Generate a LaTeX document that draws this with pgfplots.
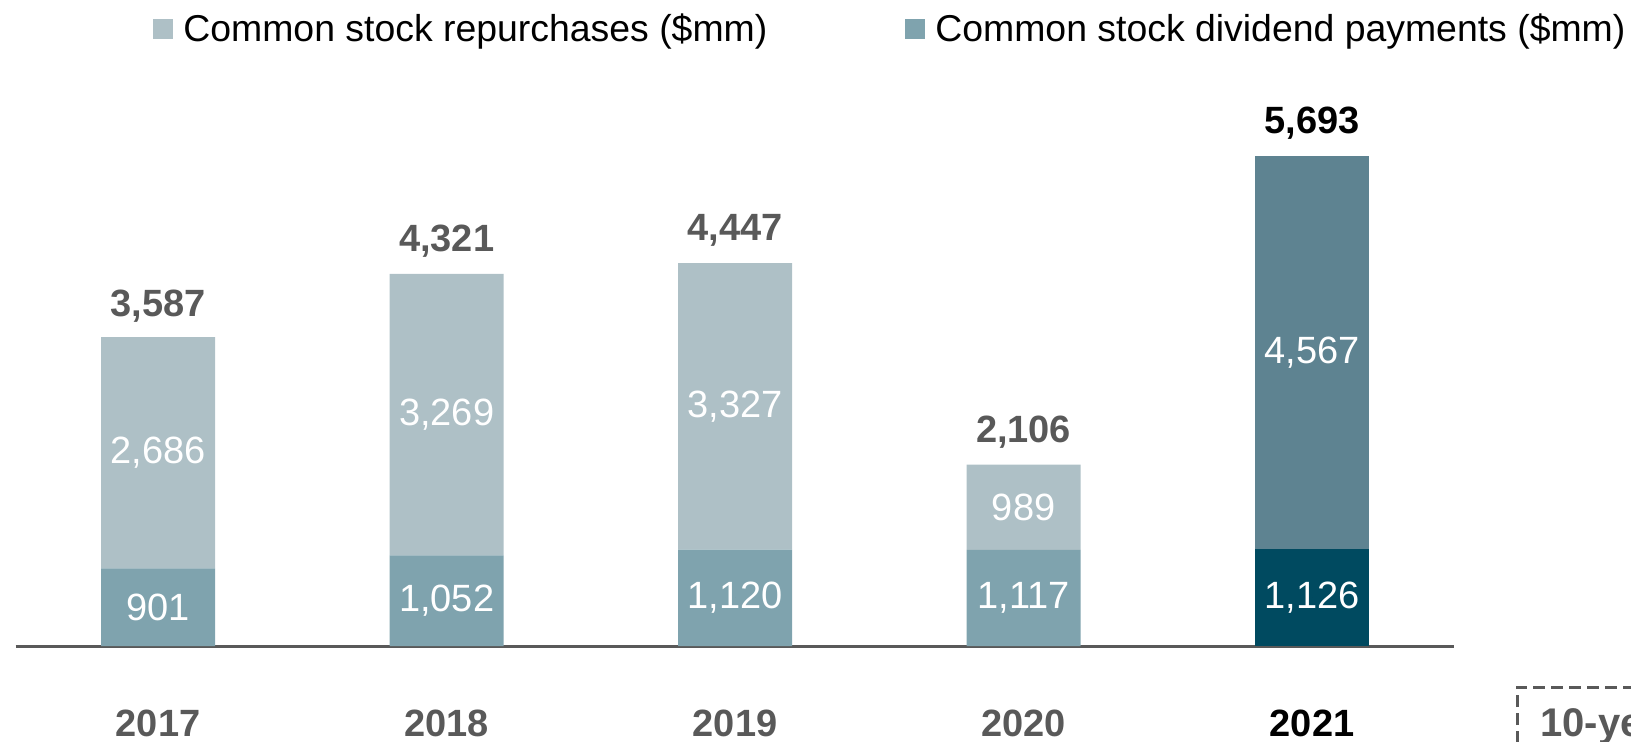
\documentclass[border=0pt]{standalone}
\usepackage{pgfplots}
\pgfplotsset{compat=1.18}
\usepackage{fontspec}
\setmainfont{Liberation Sans}
\definecolor{rep}{HTML}{AEC0C6}
\definecolor{div}{HTML}{7FA3AE}
\definecolor{repb}{HTML}{5E8391}
\definecolor{divb}{HTML}{004A60}
\definecolor{txt}{HTML}{595959}
\newcommand{\fs}{\fontsize{19}{22}\selectfont}
\begin{document}
\begin{tikzpicture}[x=0.5pt,y=0.5pt]
\useasboundingbox (0,0) rectangle (1631,741);
\begin{axis}[at={(7.8pt,47.5pt)}, anchor=south west, scale only axis,
  width=719.2pt, height=258.3pt,
  xmin=-0.494, xmax=4.492, ymin=0, ymax=6000,
  ybar stacked, bar width=57pt,
  axis y line=none, axis x line=bottom,
  x axis line style={-, draw=txt, line width=1.5pt},
  xtick={0,1,2,3,4}, xticklabels={2017,2018,2019,2020,{\color{black}2021}},
  major tick length=0pt,
  xticklabel style={font=\fs\bfseries, text=txt, anchor=center, yshift=-38.5pt},
]
\addplot[fill=div, draw=none] coordinates {(0,901)(1,1052)(2,1120)(3,1117)(4,0)};
\addplot[fill=divb, draw=none] coordinates {(0,0)(1,0)(2,0)(3,0)(4,1126)};
\addplot[fill=rep, draw=none] coordinates {(0,2686)(1,3269)(2,3327)(3,989)(4,0)};
\addplot[fill=repb, draw=none] coordinates {(0,0)(1,0)(2,0)(3,0)(4,4567)};
\end{axis}
\begin{axis}[at={(7.8pt,47.5pt)}, anchor=south west, scale only axis,
  width=719.2pt, height=258.3pt,
  xmin=-0.494, xmax=4.492, ymin=0, ymax=6000,
  hide axis, clip=false,
  legend columns=2,
  legend style={at={(0.0955,1.194)}, anchor=west, draw=none, fill=none, inner sep=0pt,
    font=\fontsize{18.7}{22}\selectfont, /tikz/every even column/.append style={column sep=65pt},
    nodes={inner sep=4pt}},
  legend image code/.code={\fill[#1] (0pt,-5pt) rectangle (10pt,5pt); \path (11pt,0pt);},
]
\addlegendimage{fill=rep, draw=none}
\addlegendentry{Common stock repurchases (\$mm)}
\addlegendimage{fill=div, draw=none}
\addlegendentry{Common stock dividend payments (\$mm)}
\addplot[only marks, mark=*, mark size=0pt, mark options={draw=none,fill=none},
  nodes near coords, point meta=explicit symbolic,
  every node near coord/.append style={anchor=center, text=white, font=\fs}]
  table[meta=label] {
x y label
0 450.5 901
1 526 1,052
2 560 1,120
3 558.5 1,117
4 563 1,126
0 2244 2,686
1 2686.5 3,269
2 2783.5 3,327
3 1611.5 989
4 3409.5 4,567
};
\addplot[only marks, mark=*, mark size=0pt, mark options={draw=none,fill=none},
  nodes near coords, point meta=explicit symbolic,
  every node near coord/.append style={anchor=center, text=txt, font=\fs\bfseries}]
  table[meta=label] {
x y label
0 3950 3,587
1 4704 4,321
2 4830 4,447
3 2489 2,106
};
\addplot[only marks, mark=*, mark size=0pt, mark options={draw=none,fill=none},
  nodes near coords, point meta=explicit symbolic,
  every node near coord/.append style={anchor=center, text=black, font=\fs\bfseries}]
  table[meta=label] {
x y label
4 6076 5,693
};
\end{axis}
\draw[txt, line width=1.5pt, dash pattern=on 6pt off 3pt] (1517,-20) -- (1517,54) -- (1700,54);
\node[anchor=west, inner sep=0pt, text=txt, font=\fontsize{20}{22}\selectfont\bfseries] at (1540,14) {10-year};
\end{tikzpicture}
\end{document}
